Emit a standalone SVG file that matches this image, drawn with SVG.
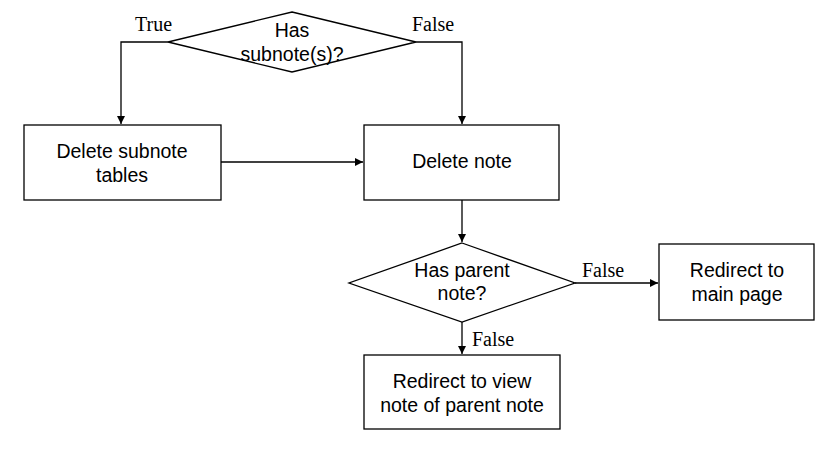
<svg xmlns="http://www.w3.org/2000/svg" width="840" height="450" viewBox="0 0 840 450">
<defs>
<style>
.shape{fill:#fff;stroke:#000;stroke-width:1.3}
.line{fill:none;stroke:#000;stroke-width:1.3}
.t{font-family:"Liberation Sans",Arial,sans-serif;font-size:19.5px;fill:#000;text-anchor:middle}
.lbl{font-family:"Liberation Serif","Times New Roman",serif;font-size:20px;fill:#000}
</style>
<marker id="arr" viewBox="0 0 10 10" refX="10" refY="5" markerWidth="8" markerHeight="8" markerUnits="userSpaceOnUse" orient="auto">
<path d="M0,0 L10,5 L0,10 Z" fill="#000"/>
</marker>
</defs>
<rect width="840" height="450" fill="#fff"/>
<g id="connectors">
<polyline class="line" points="168,42 121,42 121,124" marker-end="url(#arr)"/>
<polyline class="line" points="416,42 462,42 462,124" marker-end="url(#arr)"/>
<line class="line" x1="221" y1="162" x2="363" y2="162" marker-end="url(#arr)"/>
<line class="line" x1="462" y1="200" x2="462" y2="242" marker-end="url(#arr)"/>
<line class="line" x1="575" y1="283" x2="658" y2="283" marker-end="url(#arr)"/>
<line class="line" x1="462" y1="322" x2="462" y2="354" marker-end="url(#arr)"/>
<text class="lbl" x="135" y="31">True</text>
<text class="lbl" x="412" y="31">False</text>
<text class="lbl" x="582" y="277">False</text>
<text class="lbl" x="472" y="346">False</text>
</g>
<g id="has-subnotes">
<polygon class="shape" points="292,12 416,42 292,72 168,42"/>
<text class="t" x="292" y="37">Has</text>
<text class="t" x="292" y="61">subnote(s)?</text>
</g>
<g id="delete-subnote-tables">
<rect class="shape" x="24" y="125" width="197" height="75"/>
<text class="t" x="122" y="158">Delete subnote</text>
<text class="t" x="122" y="182">tables</text>
</g>
<g id="delete-note">
<rect class="shape" x="364" y="125" width="195" height="75"/>
<text class="t" x="462" y="168">Delete note</text>
</g>
<g id="has-parent-note">
<polygon class="shape" points="462,243 575,283 462,322 349,283"/>
<text class="t" x="462" y="277">Has parent</text>
<text class="t" x="462" y="300">note?</text>
</g>
<g id="redirect-main">
<rect class="shape" x="659" y="244" width="155" height="76"/>
<text class="t" x="737" y="277">Redirect to</text>
<text class="t" x="737" y="301">main page</text>
</g>
<g id="redirect-parent">
<rect class="shape" x="364" y="355" width="196" height="74"/>
<text class="t" x="462" y="388">Redirect to view</text>
<text class="t" x="462" y="412">note of parent note</text>
</g>
</svg>
